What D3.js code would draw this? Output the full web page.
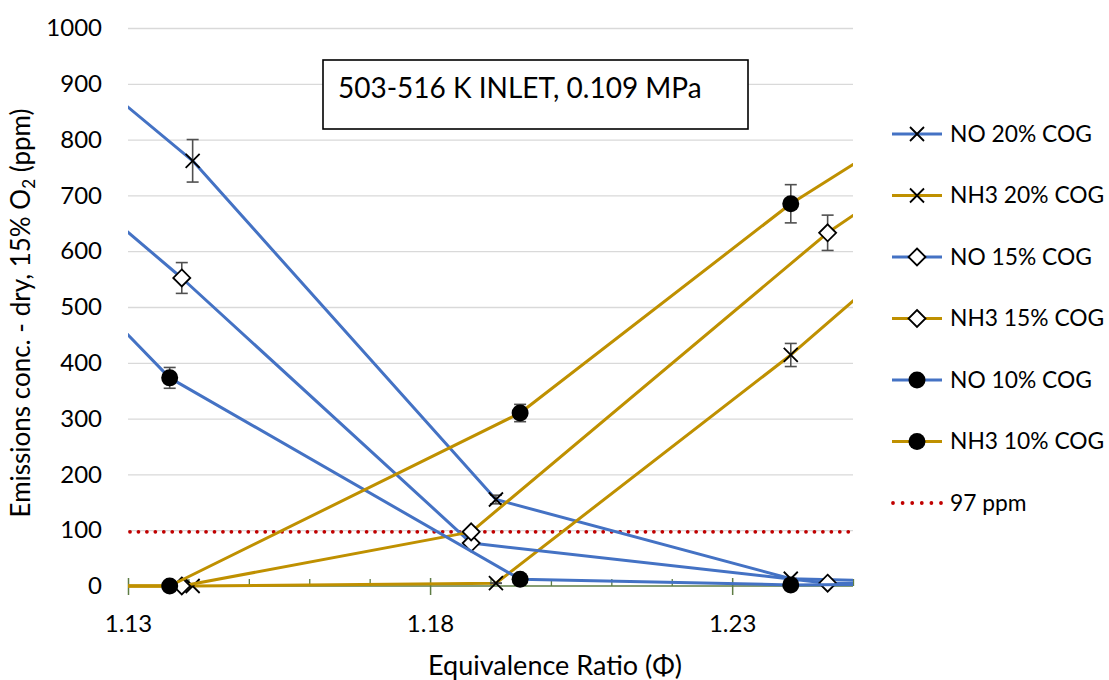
<!DOCTYPE html>
<html>
<head>
<meta charset="utf-8">
<script src="https://cdn.jsdelivr.net/npm/d3@7"></script>
<style>
  body { margin: 0; background: #fff; }
  svg { display: block; }
  text { font-family: Lato, "Open Sans", sans-serif; fill: #000; }
</style>
</head>
<body>
<svg id="chart" width="1109" height="680"></svg>
<script>
// Emissions (ppm, dry, 15% O2) against equivalence ratio for three COG blends.
// The outermost point of each run lies just beyond the plotted phi range,
// so the lines run on to the edges of the plot.
const seriesNames = ["NO 20% COG", "NH3 20% COG", "NO 15% COG", "NH3 15% COG", "NO 10% COG", "NH3 10% COG"];

const phi20 = [1.120, 1.1407, 1.1909, 1.2397, 1.260];
const no20  = [948, 762, 155, 13, 8];
const nh320 = [0, 0, 5, 414, 605];

const phi15 = [1.120, 1.1389, 1.1868, 1.2458, 1.260];
const no15  = [726, 552, 77, 5, 4];
const nh315 = [0, 0, 97, 633, 738];

const phi10 = [1.120, 1.1369, 1.1949, 1.2397, 1.260];
const no10  = [562, 373, 12, 2, 3];
const nh310 = [0, 0, 310, 685, 824];

const limitLabel = "97 ppm";
const limitPpm = 97;
const errorFraction = 0.05;

const xMajorTicks = [1.13, 1.18, 1.23];
const xMinorTicks = [1.14, 1.15, 1.16, 1.17, 1.19, 1.20, 1.21, 1.22, 1.24, 1.25];
const yTicks = [0, 100, 200, 300, 400, 500, 600, 700, 800, 900, 1000];

const titleText = "503-516 K INLET, 0.109 MPa";
const xTitle = "Equivalence Ratio (\u03A6)";

const BLUE = "#4472c4", GOLD = "#bf9000", RED = "#c00000";

const series = [
  { name: seriesNames[0], phi: phi20, val: no20,  color: BLUE, marker: "x" },
  { name: seriesNames[1], phi: phi20, val: nh320, color: GOLD, marker: "x" },
  { name: seriesNames[2], phi: phi15, val: no15,  color: BLUE, marker: "diamond" },
  { name: seriesNames[3], phi: phi15, val: nh315, color: GOLD, marker: "diamond" },
  { name: seriesNames[4], phi: phi10, val: no10,  color: BLUE, marker: "dot" },
  { name: seriesNames[5], phi: phi10, val: nh310, color: GOLD, marker: "dot" }
];

const svg = d3.select("#chart");
const plot = { left: 128, right: 853, top: 28, bottom: 586 };

const x = d3.scaleLinear().domain([1.13, 1.25]).range([plot.left, plot.right]);
const y = d3.scaleLinear().domain([0, 1000]).range([plot.bottom, plot.top]);

svg.append("defs").append("clipPath").attr("id", "plot-clip")
  .append("rect")
  .attr("x", plot.left).attr("y", 0)
  .attr("width", plot.right - plot.left).attr("height", 680);

// Horizontal gridlines and value labels
const yAxis = svg.append("g")
  .attr("transform", `translate(${plot.left},0)`)
  .call(d3.axisLeft(y).tickValues(yTicks).tickSize(-(plot.right - plot.left)).tickPadding(26).tickFormat(d3.format("d")));
yAxis.select(".domain").remove();
yAxis.selectAll(".tick line")
  .attr("stroke", "#d9d9d9").attr("stroke-width", 1.3)
  .filter(d => d === 0).remove();
yAxis.selectAll(".tick text").attr("font-size", 24).attr("font-family", "Lato, sans-serif").attr("fill", "#000");

// Category axis line with crossing major ticks and inside minor ticks
const AXIS = "#5e7d45";
svg.append("line")
  .attr("x1", plot.left).attr("x2", plot.right)
  .attr("y1", y(0)).attr("y2", y(0))
  .attr("stroke", AXIS).attr("stroke-width", 1.5);

const xMajor = svg.append("g")
  .attr("transform", `translate(0,${y(0)})`)
  .call(d3.axisBottom(x).tickValues(xMajorTicks).tickSize(9).tickPadding(20).tickFormat(d3.format(".2f")));
xMajor.select(".domain").remove();
xMajor.selectAll(".tick line").attr("y1", -8).attr("stroke", AXIS).attr("stroke-width", 1.5);
xMajor.selectAll(".tick text").attr("font-size", 24).attr("font-family", "Lato, sans-serif").attr("fill", "#000");

const xMinor = svg.append("g")
  .attr("transform", `translate(0,${y(0)})`)
  .call(d3.axisBottom(x).tickValues(xMinorTicks).tickSize(-7).tickFormat(""));
xMinor.select(".domain").remove();
xMinor.selectAll(".tick line").attr("stroke", AXIS).attr("stroke-width", 1.3);

// Regulatory limit
svg.append("line")
  .attr("x1", plot.left + 2).attr("x2", plot.right)
  .attr("y1", y(limitPpm)).attr("y2", y(limitPpm))
  .attr("stroke", RED).attr("stroke-width", 3.8)
  .attr("stroke-linecap", "round").attr("stroke-dasharray", "0 8.45");

// Marker drawing shared by chart and legend
function drawMarker(g, type) {
  if (type === "x") {
    g.append("path").attr("d", "M-7,-7L7,7M-7,7L7,-7")
      .attr("stroke", "#000").attr("stroke-width", 1.8).attr("fill", "none");
  } else if (type === "diamond") {
    g.append("path").attr("d", "M0,-8.5L8.5,0L0,8.5L-8.5,0Z")
      .attr("stroke", "#000").attr("stroke-width", 1.8).attr("fill", "#fff");
  } else {
    g.append("circle").attr("r", 8.5).attr("fill", "#000");
  }
}

const line = d3.line().x(d => x(d[0])).y(d => y(d[1]));
const [xMin, xMax] = x.domain();

series.forEach(s => {
  const pts = s.phi.map((p, i) => [p, s.val[i]]);
  const g = svg.append("g");

  g.append("path")
    .attr("clip-path", "url(#plot-clip)")
    .attr("d", line(pts))
    .attr("fill", "none").attr("stroke", s.color).attr("stroke-width", 3)
    .attr("stroke-linejoin", "round");

  const shown = pts.filter(d => d[0] >= xMin && d[0] <= xMax);

  // 5 % error bars
  shown.filter(d => d[1] > 0).forEach(d => {
    const e = d[1] * errorFraction, cx = x(d[0]);
    const bar = g.append("g").attr("stroke", "#505050").attr("stroke-width", 1.6);
    bar.append("line").attr("x1", cx).attr("x2", cx).attr("y1", y(d[1] - e)).attr("y2", y(d[1] + e));
    [d[1] - e, d[1] + e].forEach(v => {
      bar.append("line").attr("x1", cx - 6).attr("x2", cx + 6).attr("y1", y(v)).attr("y2", y(v));
    });
  });

  shown.forEach(d => {
    const m = g.append("g").attr("transform", `translate(${x(d[0])},${y(d[1])})`);
    drawMarker(m, s.marker);
  });
});

// Annotation box
svg.append("rect")
  .attr("x", 323).attr("y", 60).attr("width", 425).attr("height", 69)
  .attr("fill", "#fff").attr("stroke", "#000").attr("stroke-width", 1.6);
svg.append("text")
  .attr("x", 338).attr("y", 98)
  .attr("font-size", 28)
  .text(titleText);

// Axis titles
svg.append("text")
  .attr("x", 555).attr("y", 675)
  .attr("text-anchor", "middle").attr("font-size", 27)
  .text(xTitle);

const yTitle = svg.append("text")
  .attr("transform", "translate(30,313) rotate(-90)")
  .attr("text-anchor", "middle").attr("font-size", 26);
yTitle.append("tspan").text("Emissions conc. - dry, 15% O");
yTitle.append("tspan").attr("font-size", 17).attr("dy", 5).text("2");
yTitle.append("tspan").attr("dy", -5).text(" (ppm)");

// Legend
const legend = svg.append("g");
const rowY = i => 134 + i * 61.5;
series.forEach((s, i) => {
  const row = legend.append("g").attr("transform", `translate(0,${rowY(i)})`);
  row.append("line").attr("x1", 892).attr("x2", 942)
    .attr("stroke", s.color).attr("stroke-width", 3);
  drawMarker(row.append("g").attr("transform", "translate(917,0)"), s.marker);
  row.append("text").attr("x", 950).attr("dy", "0.35em").attr("font-size", 22.8).text(s.name);
});
const limitRow = legend.append("g").attr("transform", `translate(0,${rowY(6)})`);
limitRow.append("line").attr("x1", 893).attr("x2", 942)
  .attr("stroke", RED).attr("stroke-width", 3.8)
  .attr("stroke-linecap", "round").attr("stroke-dasharray", "0 9.6");
limitRow.append("text").attr("x", 950).attr("dy", "0.35em").attr("font-size", 22.8).text(limitLabel);
</script>
</body>
</html>
